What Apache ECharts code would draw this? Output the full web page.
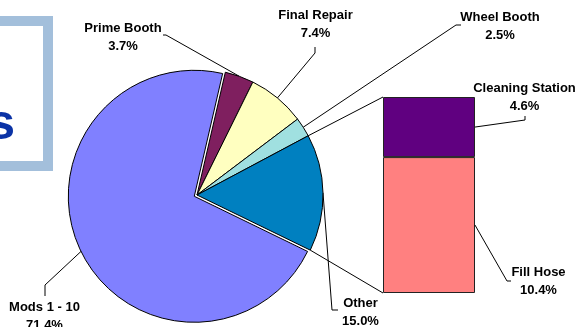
<!DOCTYPE html>
<html><head><meta charset="utf-8">
<script src="https://cdn.jsdelivr.net/npm/echarts@6/dist/echarts.min.js"></script>
<style>html,body{margin:0;padding:0;background:#fff;overflow:hidden}#c{width:577px;height:327px}</style>
</head><body><div id="c"></div>
<script>
// ---- data ----
const pieNames = ['Prime Booth', 'Final Repair', 'Wheel Booth', 'Other', 'Mods 1 - 10'];
const pieValues = [3.7, 7.4, 2.5, 15.0, 71.4];
const barCategory = ['Other'];
const barNames = ['Fill Hose', 'Cleaning Station'];
const barValues = [10.4, 4.6];
const titleText = 's';

// ---- styles / layout ----
const pieColors = ['#7F1F5F', '#FFFFC0', '#A0E0E0', '#0080C0', '#8080FF'];
const barColors = ['#FF8080', '#600080'];
const pieCenter = [197, 195];
const pieRadius = 126;
const pieStart = 77;
const explodeName = 'Mods 1 - 10';
const explodePx = 3;
const gridBox = { left: 383, top: 97, width: 92, height: 196 };
const labelFont = { fontFamily: 'Liberation Sans, Arial, sans-serif', fontWeight: 'bold', fontSize: 13, lineHeight: 18, color: '#000' };
// label anchor (centre of text block) and leader elbow/end points
const labelPos = {
  'Prime Booth': { x: 123, y: 37, pts: [[166, 35], [163, 35]] },
  'Final Repair': { x: 315.5, y: 24.5, pts: [[315, 53], [315, 47]] },
  'Wheel Booth': { x: 500, y: 26, pts: [[456, 25], [461, 25]] },
  'Other': { x: 360.5, y: 312.5, pts: [[332, 310], [338, 310]] },
  'Mods 1 - 10': { x: 44.5, y: 316, pts: [[45, 285], [45, 296]] },
  'Cleaning Station': { x: 524.5, y: 97.5, pts: [[525, 120], [525, 116]] },
  'Fill Hose': { x: 538.5, y: 281.5, pts: [[507, 281], [511, 281]] }
};

const chart = echarts.init(document.getElementById('c'), null, { renderer: 'canvas' });

function fmt(p) { return p.name + '\n' + Number(p.value).toFixed(1) + '%'; }
function fmtBar(p) { return p.seriesName + '\n' + Number(p.value).toFixed(1) + '%'; }

const BAR_SERIES_OFFSET = 2; // two pie series come first
function pieLayout(params) {
  const lp = labelPos[pieNames[params.dataIndex]];
  const start = (params.labelLinePoints && params.labelLinePoints.length) ? params.labelLinePoints[0] : pieCenter;
  return { x: lp.x, y: lp.y, align: 'center', verticalAlign: 'middle',
    labelLinePoints: [start, lp.pts[0], lp.pts[1]] };
}
function barLayout(params) {
  const name = barNames[params.seriesIndex - BAR_SERIES_OFFSET];
  const lp = labelPos[name];
  if (!lp) return {};
  return { x: lp.x, y: lp.y, align: 'center', verticalAlign: 'middle' };
}

// exploded slice: its own copy of the pie, shifted along the slice's mid angle
const total = pieValues.reduce((a, b) => a + b, 0);
const exIdx = pieNames.indexOf(explodeName);
let exBefore = 0;
for (let i = 0; i < exIdx; i++) exBefore += pieValues[i];
const exMid = (pieStart - (exBefore + pieValues[exIdx] / 2) / total * 360) * Math.PI / 180;
const exCenter = [pieCenter[0] + explodePx * Math.cos(exMid), pieCenter[1] - explodePx * Math.sin(exMid)];

const hidden = { color: 'rgba(0,0,0,0)', borderWidth: 0 };

const option = {
  animation: false,
  backgroundColor: '#fff',
  grid: Object.assign({ containLabel: false }, gridBox),
  xAxis: { type: 'category', data: barCategory, show: false, boundaryGap: true },
  yAxis: { type: 'value', min: 0, max: 15, show: false, splitLine: { show: false } },
  series: [
    {
      type: 'pie', name: 'main', center: pieCenter, radius: pieRadius, startAngle: pieStart, clockwise: true,
      avoidLabelOverlap: false, silent: true,
      data: pieNames.map((n, i) => ({ name: n, value: pieValues[i],
        itemStyle: i === exIdx ? hidden : { color: pieColors[i] } })),
      itemStyle: { borderColor: '#000', borderWidth: 1 },
      label: Object.assign({ show: true, position: 'outside', formatter: fmt, align: 'center' }, labelFont),
      labelLine: { show: true, length: 5, length2: 5, smooth: false, lineStyle: { color: '#000', width: 1 } },
      labelLayout: pieLayout,
      emphasis: { disabled: true }
    },
    {
      type: 'pie', name: 'exploded', center: exCenter, radius: pieRadius, startAngle: pieStart, clockwise: true,
      silent: true,
      data: pieNames.map((n, i) => ({ name: n, value: pieValues[i],
        itemStyle: i === exIdx ? { color: pieColors[i], borderColor: '#000', borderWidth: 1 } : hidden })),
      label: { show: false }, labelLine: { show: false },
      emphasis: { disabled: true }
    }
  ].concat(barNames.map((n, i) => ({
    type: 'bar', name: n, stack: 'other', barWidth: '100%', silent: true,
    data: [barValues[i]],
    itemStyle: { color: barColors[i], borderColor: '#222', borderWidth: 1 },
    label: Object.assign({ show: true, position: 'right', formatter: fmtBar, align: 'center' }, labelFont),
    labelLayout: barLayout,
    emphasis: { disabled: true }
  })))
};
chart.setOption(option);

// connector lines between the "Other" slice and the bar
function rimPoint(cumPct) {
  const a = (pieStart - cumPct / total * 360) * Math.PI / 180;
  return [pieCenter[0] + pieRadius * Math.cos(a), pieCenter[1] - pieRadius * Math.sin(a)];
}
const otherIdx = pieNames.indexOf('Other');
let before = 0;
for (let i = 0; i < otherIdx; i++) before += pieValues[i];
const after = before + pieValues[otherIdx];
const barTotal = barValues.reduce((a, b) => a + b, 0);
const topPx = chart.convertToPixel({ yAxisIndex: 0 }, barTotal);
const botPx = chart.convertToPixel({ yAxisIndex: 0 }, 0);
const barLeft = gridBox.left;
const barRight = gridBox.left + gridBox.width;

const lineStyle = { stroke: '#000', lineWidth: 1, fill: null };
const graphics = [
  { type: 'rect', shape: { x: -200, y: 21, width: 248, height: 145 },
    style: { fill: '#fff', stroke: '#A3BFDB', lineWidth: 10 }, z: 0, silent: true },
  { type: 'text', x: 15, y: 150, style: { text: titleText, fill: '#0B33A6',
    font: 'bold 50px "Liberation Sans", Arial, sans-serif', textAlign: 'right', textVerticalAlign: 'bottom' }, z: 1, silent: true },
  { type: 'polyline', shape: { points: [rimPoint(before), [barLeft, topPx]] }, style: lineStyle, z: 100, silent: true },
  { type: 'polyline', shape: { points: [rimPoint(after), [barLeft, botPx]] }, style: lineStyle, z: 100, silent: true }
];
// bar label leader lines
let cum = 0;
barNames.forEach((n, i) => {
  const midPx = chart.convertToPixel({ yAxisIndex: 0 }, cum + barValues[i] / 2);
  cum += barValues[i];
  const lp = labelPos[n];
  graphics.push({ type: 'polyline', shape: { points: [[barRight, midPx], lp.pts[0], lp.pts[1]] },
    style: lineStyle, z: 100, silent: true });
});
chart.setOption({ graphic: graphics });
</script>
</body></html>
